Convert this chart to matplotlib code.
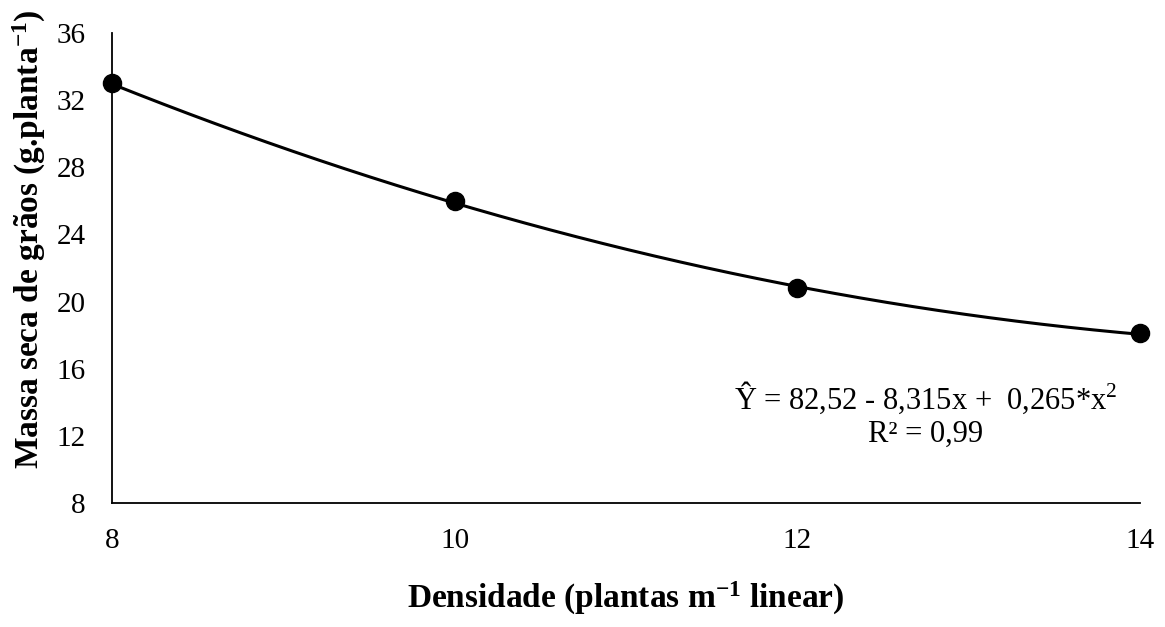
import numpy as np
import matplotlib.pyplot as plt

plt.rcParams['font.family'] = ['Liberation Serif', 'DejaVu Serif']
plt.rcParams['mathtext.fontset'] = 'custom'
plt.rcParams['mathtext.rm'] = 'Liberation Serif'
plt.rcParams['mathtext.bf'] = 'Liberation Serif:bold'

# observed points
densidade = [8, 10, 12, 14]
massa = [33.0, 26.0, 20.8, 18.1]

# fitted quadratic from the chart: Y = b0 + b1*x + b2*x^2
coef = [82.52, -8.315, 0.265]

x_ticks = [8, 10, 12, 14]
y_ticks = [8, 12, 16, 20, 24, 28, 32, 36]

fig = plt.figure(figsize=(11.65, 6.27), dpi=100)
ax = fig.add_axes([112 / 1165, 1 - 503 / 627, (1140 - 112) / 1165, (503 - 33) / 627])

xs = np.linspace(8, 14, 200)
ys = coef[0] + coef[1] * xs + coef[2] * xs ** 2
ax.plot(xs, ys, color='black', lw=2.2, zorder=2)
ax.scatter(densidade, massa, s=170, color='black', zorder=3, clip_on=False)

ax.set_xlim(8, 14)
ax.set_ylim(8, 36)
ax.set_xticks(x_ticks)
ax.set_yticks(y_ticks)
ax.tick_params(length=0, labelsize=21)
ax.tick_params(axis='y', pad=19)
ax.tick_params(axis='x', pad=18)

for s in ['top', 'right']:
    ax.spines[s].set_visible(False)
for s in ['left', 'bottom']:
    ax.spines[s].set_linewidth(1.3)

ax.set_xlabel(r'Densidade (plantas $\mathbf{m^{-1}}$ linear)', fontsize=24, fontweight='bold')
ax.set_ylabel(r'Massa seca de grãos (g.planta$\mathbf{^{-1}}$)', fontsize=24, fontweight='bold')
ax.xaxis.set_label_coords(0.5, -0.203)
ax.xaxis.label.set_va('center')
ax.yaxis.set_label_coords(-0.08, 0.562)
ax.yaxis.label.set_va('center')

ax.text(12.75, 13.3, 'Ŷ = 82,52 - 8,315x +  0,265*x$^2$\nR² = 0,99',
        fontsize=22, ha='center', va='center', linespacing=1.15)

fig.savefig('out.png', dpi=100)
